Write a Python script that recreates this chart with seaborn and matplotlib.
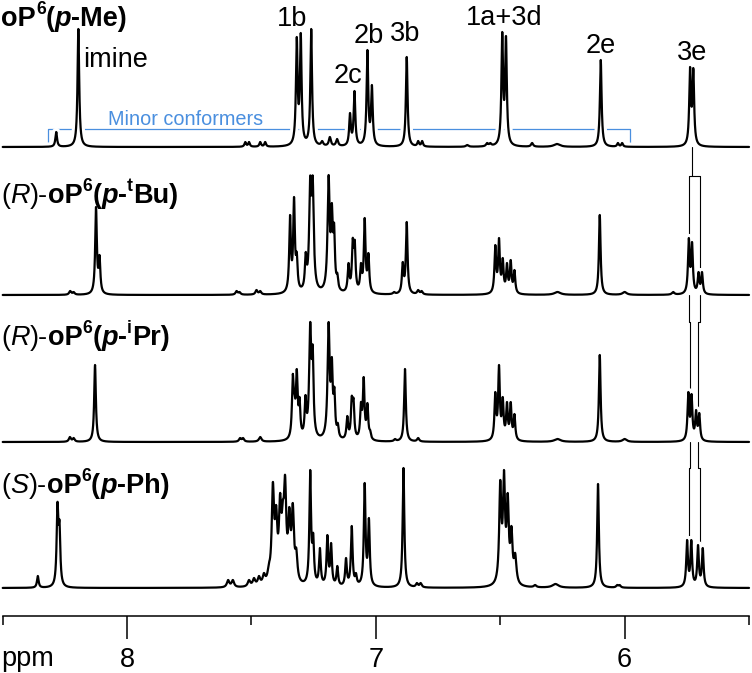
import numpy as np
import pandas as pd
import matplotlib
matplotlib.use("Agg")
import matplotlib.pyplot as plt
import matplotlib.patheffects as pe
from matplotlib.transforms import offset_copy
from matplotlib.font_manager import FontProperties
import seaborn as sns

# ------------------------------------------------------------------ data
# peak lists: chemical shift (ppm), apparent height, line width (ppm)
me_ppm = [8.285, 8.196, 7.525, 7.510, 7.465, 7.445, 7.318, 7.302, 7.260, 7.216, 7.185, 7.156,
          7.104, 7.086, 7.034, 7.016, 6.876, 6.830, 6.814, 6.633, 6.553, 6.540, 6.492, 6.477,
          6.372, 6.272, 6.096, 6.027, 6.010, 5.737, 5.724]
me_h = [15, 118, 5, 5, 5, 5, 110, 114, 118, 6, 10, 8,
        34, 56, 97, 62, 90, 6, 6, 2, 4, 4, 115, 111,
        4, 3, 87, 4, 4, 80, 79]
me_w = [0.008, 0.008, 0.008, 0.008, 0.008, 0.008, 0.008, 0.008, 0.008, 0.01, 0.01, 0.01,
        0.008, 0.008, 0.008, 0.008, 0.008, 0.008, 0.008, 0.012, 0.01, 0.01, 0.008, 0.008,
        0.01, 0.03, 0.008, 0.008, 0.008, 0.008, 0.008]

tbu_ppm = [8.229, 8.215, 8.125, 8.111, 7.560, 7.548, 7.480, 7.465, 7.345, 7.329, 7.318, 7.282,
           7.264, 7.254, 7.190, 7.177, 7.168, 7.155, 7.110, 7.093, 7.085, 7.060, 7.045, 7.030,
           6.927, 6.892, 6.876, 6.830, 6.816, 6.520, 6.505, 6.490, 6.473, 6.458, 6.443,
           6.270, 6.100, 6.000, 5.805, 5.742, 5.729, 5.703, 5.689]
tbu_h = [4, 3, 88, 40, 4, 3, 5, 4, 80, 98, 43, 43,
         119, 119, 120, 92, 72, 22, 32, 57, 55, 32, 77, 42,
         3, 33, 73, 5, 4, 50, 57, 37, 32, 35, 25,
         3, 80, 3, 3, 57, 53, 23, 23]
tbu_w = [0.01, 0.01, 0.008, 0.008, 0.01, 0.01, 0.01, 0.01, 0.008, 0.008, 0.008, 0.008,
         0.01, 0.01, 0.01, 0.008, 0.008, 0.008, 0.008, 0.008, 0.008, 0.008, 0.008, 0.008,
         0.01, 0.008, 0.008, 0.01, 0.01, 0.008, 0.008, 0.008, 0.008, 0.008, 0.008,
         0.03, 0.008, 0.02, 0.012, 0.008, 0.008, 0.008, 0.008]

ipr_ppm = [8.230, 8.215, 8.129, 7.546, 7.534, 7.465, 7.334, 7.327, 7.318, 7.307, 7.283, 7.264,
           7.254, 7.190, 7.177, 7.167, 7.153, 7.115, 7.097, 7.090, 7.060, 7.049, 7.034, 7.023,
           6.923, 6.883, 6.830, 6.520, 6.505, 6.490, 6.473, 6.458, 6.443,
           6.270, 6.100, 6.000, 5.744, 5.731, 5.713, 5.700]
ipr_h = [5, 4, 77, 4, 4, 5, 68, 48, 73, 45, 47, 120,
         97, 120, 85, 55, 19, 26, 46, 44, 40, 65, 39, 12,
         3, 73, 4, 50, 77, 45, 40, 40, 28,
         3, 87, 3, 50, 48, 32, 29]
ipr_w = [0.01, 0.01, 0.008, 0.01, 0.01, 0.012, 0.008, 0.008, 0.008, 0.008, 0.008, 0.01,
         0.008, 0.01, 0.008, 0.008, 0.008, 0.008, 0.008, 0.008, 0.008, 0.008, 0.008, 0.008,
         0.01, 0.008, 0.01, 0.008, 0.008, 0.008, 0.008, 0.008, 0.008,
         0.03, 0.008, 0.02, 0.008, 0.008, 0.008, 0.008]

ph_ppm = [8.359, 8.280, 8.272, 7.594, 7.575, 7.510, 7.490, 7.470, 7.450, 7.430, 7.414, 7.401,
          7.385, 7.374, 7.365, 7.348, 7.334, 7.320, 7.264, 7.252, 7.225, 7.195, 7.180, 7.155,
          7.120, 7.097, 7.080, 7.045, 7.028, 6.889, 6.835, 6.820, 6.500, 6.485, 6.470, 6.455,
          6.440, 6.360, 6.278, 6.107, 6.030, 6.020, 5.749, 5.732, 5.705, 5.686]
ph_h = [12, 86, 68, 8, 8, 8, 10, 12, 15, 25, 106, 83,
        95, 88, 113, 81, 85, 40, 118, 55, 40, 53, 45, 22,
        30, 62, 15, 105, 70, 120, 5, 5, 108, 118, 95, 62,
        35, 3, 4, 104, 3, 3, 48, 48, 43, 40]
ph_w = [0.008, 0.008, 0.008, 0.012, 0.012, 0.012, 0.012, 0.012, 0.012, 0.012, 0.011, 0.011,
        0.011, 0.011, 0.011, 0.011, 0.011, 0.011, 0.008, 0.008, 0.008, 0.008, 0.008, 0.008,
        0.008, 0.008, 0.008, 0.008, 0.008, 0.008, 0.01, 0.01, 0.01, 0.01, 0.01, 0.01,
        0.012, 0.012, 0.03, 0.008, 0.01, 0.01, 0.008, 0.008, 0.008, 0.008]

# 3e doublet positions followed down the stack (left / right component)
e3_left = [5.730, 5.742, 5.737, 5.740]
e3_right = [5.730, 5.696, 5.706, 5.696]
e3_top_left = [80, 57, 50, 48]
e3_top_right = [80, 23, 32, 43]

peak_labels = ["imine", "1b", "2c", "2b", "3b", "1a+3d", "2e", "3e"]
minor_span = [8.318, 5.978]
x_ticks_major = [8, 7, 6]
x_ticks_minor = [8.5, 7.5, 6.5, 5.5]

# ------------------------------------------------------------------ helpers
grid = np.linspace(8.5, 5.5, 9001)


def build_curve(ppm, h, w):
    ppm = np.asarray(ppm, float)
    h = np.asarray(h, float)
    g = np.asarray(w, float) / 2.0
    M = g[None, :] ** 2 / ((ppm[:, None] - ppm[None, :]) ** 2 + g[None, :] ** 2)
    amp = np.linalg.lstsq(M, h, rcond=None)[0]
    amp = np.clip(amp, 0, None)
    L = g[None, :] ** 2 / ((grid[:, None] - ppm[None, :]) ** 2 + g[None, :] ** 2)
    return (L * amp[None, :]).sum(axis=1)


sns.set_theme(style="white")
plt.rcParams["font.family"] = ["Liberation Sans", "DejaVu Sans"]
plt.rcParams["text.color"] = "black"
plt.rcParams["xtick.color"] = "black"
plt.rcParams["xtick.labelcolor"] = "black"

W, H = 752, 673
fig = plt.figure(figsize=(W / 100, H / 100), dpi=100)
ax = fig.add_axes([0, 0, 1, 1])
ax.set_xlim(8.511, 5.488)
ax.set_ylim(0, H)

baselines = [H - 147, H - 295, H - 442, H - 588]
spectra = [(me_ppm, me_h, me_w), (tbu_ppm, tbu_h, tbu_w),
           (ipr_ppm, ipr_h, ipr_w), (ph_ppm, ph_h, ph_w)]

white = [pe.Stroke(linewidth=6, foreground="white"), pe.Normal()]
for (p, hh, ww), b in zip(spectra, baselines):
    df = pd.DataFrame({"ppm": grid, "y": build_curve(p, hh, ww) + b})
    sns.lineplot(data=df, x="ppm", y="y", ax=ax, color="black", lw=1.6,
                 estimator=None, sort=False, zorder=3, path_effects=white)

# minor conformers bracket
blue = "#4a8fdf"
yb = H - 129
ax.plot([minor_span[0], minor_span[0], minor_span[1], minor_span[1]],
        [H - 145, yb, yb, H - 145], color=blue, lw=0.9, zorder=2)
ax.text(7.766, yb + 4, "Minor conformers", color=blue,
        fontsize=14.3, ha="center", va="baseline", zorder=4)

# 3e correlation lines
k = dict(color="black", lw=0.8, zorder=2)
jog = [H - 176, H - 322, H - 468]
for i in range(3):
    b_up = baselines[i]
    b_dn = baselines[i + 1]
    if i == 0:
        ax.plot([e3_left[0], e3_left[0]], [b_up, jog[0]], **k)
        ax.plot([e3_left[1], e3_right[1]], [jog[0], jog[0]], **k)
    else:
        for side in (e3_left, e3_right):
            ax.plot([side[i], side[i], side[i + 1]], [b_up, jog[i], jog[i]], **k)
    ax.plot([e3_left[i + 1], e3_left[i + 1]], [jog[i], b_dn + e3_top_left[i + 1] + 2], **k)
    ax.plot([e3_right[i + 1], e3_right[i + 1]], [jog[i], b_dn + e3_top_right[i + 1] + 2], **k)

# peak labels on the top trace
lab_pos = [(8.177, H - 67, "left"), (7.337, H - 26, "center"), (7.112, H - 83, "center"),
           (7.028, H - 43, "center"), (6.883, H - 41, "center"), (6.485, H - 25, "center"),
           (6.095, H - 53, "center"), (5.729, H - 60, "center")]
for name, (x, y, ha) in zip(peak_labels, lab_pos):
    ax.text(x, y, name, fontsize=19.5, ha=ha, va="baseline", zorder=4, color="black")

# sample names (mixed weights / styles)
renderer = fig.canvas.get_renderer()


def adv(s, fp):
    w1 = renderer.get_text_width_height_descent("X" + s + "X", fp, False)[0]
    w0 = renderer.get_text_width_height_descent("XX", fp, False)[0]
    return (w1 - w0) * 72 / fig.dpi


def rich(x, y, pieces, size=19.5):
    dx = 0.0
    for s, weight, style, sup in pieces:
        fs = size * 0.65 if sup else size
        dy = size * 0.43 if sup else 0.0
        fp = FontProperties(family=["Liberation Sans", "DejaVu Sans"], weight=weight,
                            style=style, size=fs)
        tr = offset_copy(ax.transData, fig=fig, x=dx, y=dy, units="points")
        ax.text(x, y, s, transform=tr, fontproperties=fp, ha="left", va="baseline",
                zorder=4, color="black")
        dx += adv(s, fp)


B, N = "bold", "normal"
names = [
    [("oP", B, N, 0), ("6", B, N, 1), ("(", B, N, 0), ("p", B, "italic", 0), ("-Me)", B, N, 0)],
    [("(", N, N, 0), ("R", N, "italic", 0), (")-", N, N, 0), ("oP", B, N, 0), ("6", B, N, 1),
     ("(", B, N, 0), ("p", B, "italic", 0), ("-", B, N, 0), ("t", B, N, 1), ("Bu)", B, N, 0)],
    [("(", N, N, 0), ("R", N, "italic", 0), (")-", N, N, 0), ("oP", B, N, 0), ("6", B, N, 1),
     ("(", B, N, 0), ("p", B, "italic", 0), ("-", B, N, 0), ("i", B, N, 1), ("Pr)", B, N, 0)],
    [("(", N, N, 0), ("S", N, "italic", 0), (")-", N, N, 0), ("oP", B, N, 0), ("6", B, N, 1),
     ("(", B, N, 0), ("p", B, "italic", 0), ("-Ph)", B, N, 0)],
]
name_base = [H - 26, H - 203, H - 345, H - 493]
for pcs, yb_ in zip(names, name_base):
    rich(8.505, yb_, pcs)

# axis
for s in ["left", "right", "top"]:
    ax.spines[s].set_visible(False)
ax.spines["bottom"].set_position(("data", H - 615.7))
ax.spines["bottom"].set_bounds(5.5, 8.5)
ax.spines["bottom"].set_linewidth(1.1)
ax.spines["bottom"].set_color("black")
ax.set_yticks([])
ax.set_xticks(x_ticks_major)
ax.set_xticklabels([str(t) for t in x_ticks_major])
ax.set_xticks(x_ticks_minor, minor=True)
ax.tick_params(axis="x", which="major", direction="out", length=16.6, width=1.1,
               labelsize=19.5, pad=6, colors="black", bottom=True)
ax.tick_params(axis="x", which="minor", direction="out", length=6.7, width=1.1,
               bottom=True, colors="black")
ax.set_xlabel("")
ax.set_ylabel("")
ax.text(8.505, H - 666, "ppm", fontsize=19.5, ha="left", va="baseline", color="black")

fig.savefig("out.png", dpi=100)
